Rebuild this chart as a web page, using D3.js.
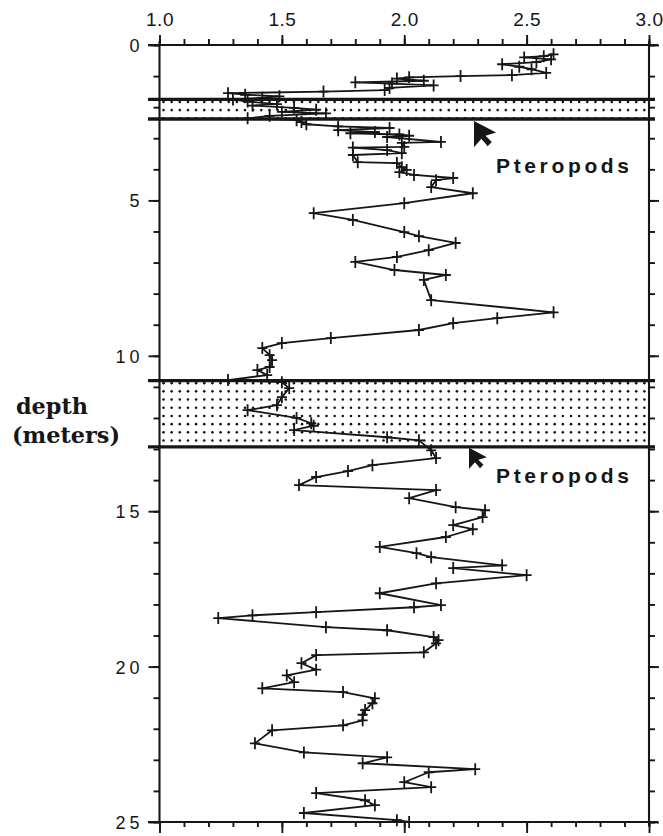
<!DOCTYPE html>
<html>
<head>
<meta charset="utf-8">
<script src="https://cdn.jsdelivr.net/npm/d3@7"></script>
<style>
  html, body { margin: 0; padding: 0; background: #fff; }
  svg { display: block; }
</style>
</head>
<body>
<script>
// ---------------- data ----------------
const depths = [
  0.30, 0.36, 0.40, 0.46, 0.55, 0.62, 0.70, 0.78, 0.90, 0.97,
  1.00, 1.04, 1.08, 1.15, 1.20, 1.24, 1.30, 1.38, 1.45, 1.50,
  1.55, 1.60, 1.65, 1.70, 1.75, 1.82, 1.90, 1.95, 2.02, 2.08,
  2.15, 2.20, 2.28, 2.36, 2.42, 2.48, 2.55, 2.62, 2.67, 2.74,
  2.80, 2.84, 2.88, 2.92, 2.96, 3.12, 3.15, 3.28, 3.30, 3.38,
  3.48, 3.54, 3.77, 3.80, 3.93, 4.02, 4.09, 4.18, 4.28, 4.35,
  4.57, 4.77, 5.09, 5.41, 5.63, 6.02, 6.15, 6.37, 6.60, 6.82,
  6.98, 7.24, 7.40, 7.56, 8.21, 8.60, 8.79, 8.95, 9.17, 9.43,
  9.59, 9.75, 9.98, 10.14, 10.36, 10.46, 10.62, 10.78, 10.85, 11.04,
  11.33, 11.59, 11.75, 12.00, 12.17, 12.25, 12.39, 12.62, 12.72, 13.04,
  13.29, 13.52, 13.71, 13.90, 14.16, 14.32, 14.58, 14.87, 14.97, 15.19,
  15.45, 15.58, 15.83, 16.15, 16.35, 16.48, 16.74, 16.83, 17.06, 17.32,
  17.64, 18.02, 18.09, 18.25, 18.35, 18.44, 18.73, 18.83, 19.05, 19.15,
  19.25, 19.54, 19.63, 19.89, 20.10, 20.28, 20.50, 20.70, 20.82, 21.02,
  21.18, 21.40, 21.55, 21.73, 21.89, 22.05, 22.47, 22.76, 22.92, 23.11,
  23.30, 23.40, 23.72, 23.88, 24.07, 24.30, 24.46, 24.71, 24.94, 25.00
];
const values = [
  2.61, 2.57, 2.49, 2.60, 2.54, 2.40, 2.47, 2.52, 2.58, 2.44,
  2.23, 2.02, 1.97, 2.08, 1.80, 1.95, 2.12, 1.94, 1.92, 1.67,
  1.28, 1.35, 1.49, 1.42, 1.30, 1.36, 1.48, 1.38, 1.55, 1.64,
  1.50, 1.68, 1.45, 1.36, 1.56, 1.58, 1.60, 1.73, 1.94, 1.73,
  1.88, 1.78, 1.98, 2.02, 1.93, 2.15, 1.99, 2.00, 1.79, 1.93,
  1.99, 1.79, 1.81, 1.97, 1.99, 2.01, 1.98, 2.04, 2.20, 2.13,
  2.11, 2.28, 2.00, 1.63, 1.79, 2.00, 2.06, 2.21, 2.10, 1.97,
  1.80, 1.96, 2.17, 2.08, 2.11, 2.61, 2.38, 2.20, 2.06, 1.70,
  1.50, 1.42, 1.45, 1.46, 1.45, 1.40, 1.44, 1.28, 1.50, 1.53,
  1.50, 1.48, 1.36, 1.56, 1.62, 1.63, 1.55, 1.93, 2.06, 2.11,
  2.13, 1.87, 1.77, 1.64, 1.57, 2.13, 2.02, 2.21, 2.33, 2.32,
  2.20, 2.28, 2.17, 1.90, 2.05, 2.11, 2.40, 2.20, 2.50, 2.13,
  1.90, 2.15, 2.04, 1.64, 1.38, 1.24, 1.68, 1.93, 2.12, 2.14,
  2.13, 2.08, 1.64, 1.58, 1.64, 1.52, 1.55, 1.42, 1.75, 1.88,
  1.87, 1.84, 1.83, 1.83, 1.75, 1.46, 1.39, 1.59, 1.93, 1.83,
  2.29, 2.10, 2.00, 2.11, 1.64, 1.84, 1.88, 1.59, 1.97, 2.02
];
const xMajorTicks = [1.0, 1.5, 2.0, 2.5, 3.0];
const xTickLabels = ["1.0", "1.5", "2.0", "2.5", "3.0"];
const yMajorTicks = [0, 5, 10, 15, 20, 25];
const yTickLabels = ["0", "5", "10", "15", "20", "25"];
const bandTops = [1.75, 10.80];
const bandBottoms = [2.38, 12.93];
const noteLabels = ["Pteropods", "Pteropods"];
const noteDepths = [2.38, 12.93];
const axisTitle = ["depth", "(meters)"];

// ---------------- layout ----------------
const W = 663, H = 836;
const svg = d3.select("body").append("svg").attr("width", W).attr("height", H);
const x = d3.scaleLinear().domain([1, 3]).range([159.5, 649]);
const y = d3.scaleLinear().domain([0, 25]).range([45, 822]);
const ink = "#161616";
const sans = "'Liberation Sans', Arial, Helvetica, sans-serif";

// ---------------- bands ----------------
const bandG = svg.append("g");
bandTops.forEach((t, i) => {
  const y0 = y(t), y1 = y(bandBottoms[i]);
  const dots = [];
  for (let yy = y0 + 2.5; yy <= y1 + 0.5; yy += 8.2) {
    for (let xx = x(1) + 4; xx <= x(3) - 1; xx += 8.15) dots.push([xx, yy]);
  }
  bandG.selectAll(null).data(dots).enter().append("circle")
    .attr("cx", d => d[0]).attr("cy", d => d[1]).attr("r", 1.3).attr("fill", ink);
  [y0, y1].forEach(yy => {
    bandG.append("line").attr("x1", 148).attr("x2", 655).attr("y1", yy).attr("y2", yy)
      .attr("stroke", ink).attr("stroke-width", 3.4);
  });
});

// ---------------- axes ----------------
function styleAxis(g) {
  g.select(".domain").remove();
  g.selectAll(".tick line").attr("stroke", ink).attr("stroke-width", 1.9);
  g.selectAll("text").attr("fill", ink).attr("font-family", sans);
}
const minorX = d3.range(0, 21).map(i => 1 + i * 0.1);
const minorY = d3.range(0, 26);

svg.append("g").attr("transform", `translate(0,${y(0)})`)
  .call(d3.axisTop(x).tickValues(minorX).tickSize(6).tickFormat("")).call(styleAxis);
svg.append("g").attr("transform", `translate(0,${y(0)})`)
  .call(d3.axisTop(x).tickValues(xMajorTicks).tickSize(10).tickPadding(9)
    .tickFormat((d, i) => xTickLabels[i]))
  .call(styleAxis)
  .call(g => g.selectAll("text").attr("font-size", 19).attr("letter-spacing", 0.5));

svg.append("g").attr("transform", `translate(0,${y(25)})`)
  .call(d3.axisBottom(x).tickValues(minorX).tickSize(5).tickFormat("")).call(styleAxis);
svg.append("g").attr("transform", `translate(0,${y(25)})`)
  .call(d3.axisBottom(x).tickValues(xMajorTicks).tickSize(11).tickFormat("")).call(styleAxis);

svg.append("g").attr("transform", `translate(${x(1)},0)`)
  .call(d3.axisLeft(y).tickValues(minorY).tickSize(6).tickFormat("")).call(styleAxis);
svg.append("g").attr("transform", `translate(${x(1)},0)`)
  .call(d3.axisLeft(y).tickValues(yMajorTicks).tickSize(11).tickPadding(5)
    .tickFormat((d, i) => yTickLabels[i]))
  .call(styleAxis)
  .call(g => g.selectAll("text").attr("font-size", 18).attr("letter-spacing", 4).attr("dy", "0.36em"));

svg.append("g").attr("transform", `translate(${x(3)},0)`)
  .call(d3.axisRight(y).tickValues(minorY).tickSize(6).tickFormat("")).call(styleAxis);
svg.append("g").attr("transform", `translate(${x(3)},0)`)
  .call(d3.axisRight(y).tickValues(yMajorTicks).tickSize(10).tickFormat("")).call(styleAxis);

// frame lines
svg.append("line").attr("x1", 148).attr("x2", 658).attr("y1", y(0)).attr("y2", y(0))
  .attr("stroke", ink).attr("stroke-width", 2.1);
svg.append("line").attr("x1", 148).attr("x2", 658).attr("y1", y(25)).attr("y2", y(25))
  .attr("stroke", ink).attr("stroke-width", 2.1);
svg.append("line").attr("x1", x(1)).attr("x2", x(1)).attr("y1", y(0) - 4).attr("y2", y(25))
  .attr("stroke", ink).attr("stroke-width", 2.1);
svg.append("line").attr("x1", x(3)).attr("x2", x(3)).attr("y1", y(0) - 4).attr("y2", y(25) + 4)
  .attr("stroke", ink).attr("stroke-width", 2.1);

// ---------------- data line ----------------
const pts = depths.map((d, i) => ({ d, v: values[i] }));
svg.append("path").datum(pts)
  .attr("fill", "none").attr("stroke", ink).attr("stroke-width", 1.8)
  .attr("stroke-linejoin", "round")
  .attr("d", d3.line().x(p => x(p.v)).y(p => y(p.d)));
const crosses = svg.append("g").attr("stroke", ink).attr("stroke-width", 1.8);
crosses.selectAll("path").data(pts).enter().append("path")
  .attr("d", p => {
    const cx = x(p.v), cy = y(p.d);
    return `M${cx - 5},${cy}H${cx + 5}M${cx},${cy - 6}V${cy + 6}`;
  });

// ---------------- annotations ----------------
const arrowShapes = [
  { tipX: 474, size: 1.05 },
  { tipX: 469, size: 0.85 }
];
noteDepths.forEach((nd, i) => {
  const by = y(nd);
  const a = arrowShapes[i];
  const tx = a.tipX, ty = by + (i === 0 ? 2 : 1);
  const s = a.size;
  const poly = [
    [0, 0], [0, 25], [7, 17], [13, 24], [17, 20], [11, 14], [21, 11]
  ].map(p => [tx + p[0] * s, ty + p[1] * s]);
  svg.append("path")
    .attr("d", "M" + poly.map(p => p.join(",")).join("L") + "Z")
    .attr("fill", ink);
  svg.append("text")
    .attr("x", 496).attr("y", i === 0 ? 173 : 483)
    .attr("font-family", sans).attr("font-weight", "bold").attr("font-size", 21)
    .attr("textLength", 133).attr("lengthAdjust", "spacing")
    .attr("fill", ink)
    .text(noteLabels[i]);
});

// axis title
const serif = "'DejaVu Serif', 'Liberation Serif', 'Times New Roman', serif";
svg.append("text").attr("x", 16).attr("y", 414)
  .attr("font-family", serif).attr("font-weight", "bold").attr("font-size", 22)
  .attr("textLength", 72).attr("lengthAdjust", "spacingAndGlyphs")
  .attr("fill", ink).text(axisTitle[0]);
svg.append("text").attr("x", 12).attr("y", 443)
  .attr("font-family", serif).attr("font-weight", "bold").attr("font-size", 22)
  .attr("textLength", 108).attr("lengthAdjust", "spacingAndGlyphs")
  .attr("fill", ink).text(axisTitle[1]);
</script>
</body>
</html>
